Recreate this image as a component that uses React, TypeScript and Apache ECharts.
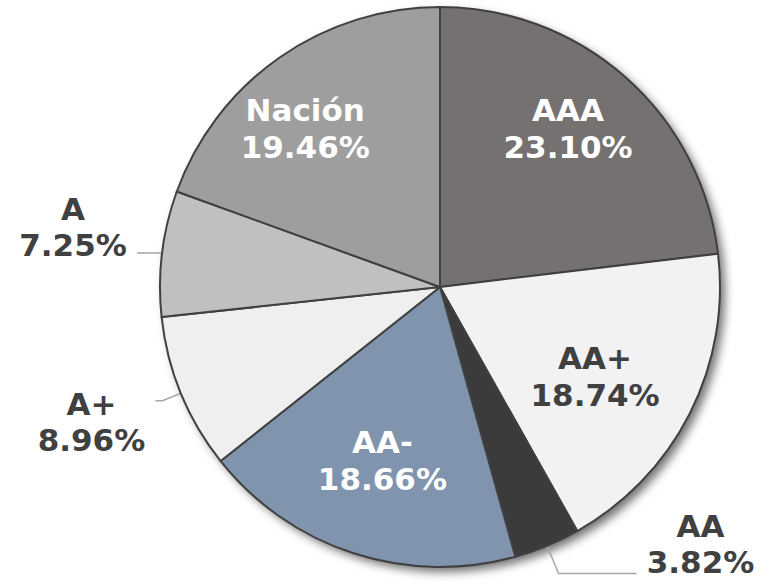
import React, { useEffect, useRef } from "react";
import * as echarts from "echarts";

const categories = ["AAA", "AA+", "AA", "AA-", "A+", "A", "Nación"];
const shares = [23.1, 18.74, 3.82, 18.66, 8.96, 7.25, 19.46];
const sliceColors = ["#757170", "#f2f2f2", "#3b3b3b", "#8094ae", "#efefef", "#c0c0c0", "#9e9e9e"];
const labelInside = [true, true, false, true, false, false, true];
const insideLabelColors = ["#ffffff", "#404040", "#ffffff", "#ffffff", "#404040", "#404040", "#ffffff"];
// small per-label nudges (styling)
const insideOffsets: Record<string, number[]> = {
  AAA: [0, -14],
  "AA+": [-17, 2],
  "AA-": [2, -10],
  "Nación": [-24, 0],
};
const outsideLabelStyle: Record<string, { padding: number[]; length: number; length2: number }> = {
  A: { padding: [0, 0, 52, 0], length: 3, length2: 22 },
  "A+": { padding: [43, 0, 0, 0], length: 20, length2: 7 },
  AA: { padding: [0, 0, 58, 0], length: 30, length2: 78 },
};

const FONT = "DejaVu Sans";
const CENTER = [440, 287];
const R = 280;

export default function App() {
  const ref = useRef<HTMLDivElement>(null);
  useEffect(() => {
    document.body.style.margin = "0";
    if (!ref.current) return;
    const chart = echarts.init(ref.current, undefined, { renderer: "svg" });
    const fmt = (v: number) => v.toFixed(2) + "%";

    const mainData = categories.map((name, i) => {
      const item: any = {
        name,
        value: shares[i],
        itemStyle: { color: sliceColors[i] },
      };
      if (labelInside[i]) {
        item.label = { show: false };
        item.labelLine = { show: false };
      } else {
        const s = outsideLabelStyle[name];
        item.label = {
          show: true,
          position: "outside",
          padding: s.padding,
          formatter: (p: any) => `{t|${p.name}}\n{t|${fmt(p.value)}}`,
          rich: {
            t: {
              width: 118,
              align: "center",
              fontFamily: FONT,
              fontWeight: "bold",
              fontSize: 31,
              lineHeight: 36,
              color: "#404040",
            },
          },
        };
        item.labelLine = { show: true, length: s.length, length2: s.length2 };
      }
      return item;
    });

    const labelData = categories.map((name, i) => ({
      name,
      value: shares[i],
      label: labelInside[i]
        ? { show: true, color: insideLabelColors[i], offset: insideOffsets[name] }
        : { show: false },
    }));

    chart.setOption({
      animation: false,
      backgroundColor: "#ffffff",
      series: [
        {
          type: "pie",
          center: CENTER,
          radius: R,
          silent: true,
          z: 1,
          label: { show: false },
          labelLine: { show: false },
          itemStyle: {
            color: "#ffffff",
            shadowColor: "rgba(0,0,0,0.55)",
            shadowBlur: 10,
            shadowOffsetX: 5,
            shadowOffsetY: 5,
          },
          data: [{ name: "bg", value: 1 }],
        },
        {
          type: "pie",
          center: CENTER,
          radius: R,
          startAngle: 90,
          clockwise: true,
          z: 2,
          avoidLabelOverlap: false,
          emphasis: { disabled: true },
          itemStyle: { borderColor: "#404040", borderWidth: 2 },
          labelLine: {
            lineStyle: { color: "#a6a6a6", width: 1.5 },
            smooth: false,
          },
          data: mainData,
        },
        {
          type: "pie",
          center: CENTER,
          radius: R * 1.357,
          startAngle: 90,
          clockwise: true,
          silent: true,
          z: 3,
          emphasis: { disabled: true },
          itemStyle: { color: "rgba(0,0,0,0)", borderWidth: 0 },
          labelLine: { show: false },
          label: {
            position: "inside",
            fontFamily: FONT,
            fontWeight: "bold",
            fontSize: 31,
            lineHeight: 37,
            align: "center",
            formatter: (p: any) => `${p.name}\n${fmt(p.value)}`,
          },
          data: labelData,
        },
      ],
    });
    return () => chart.dispose();
  }, []);
  return <div ref={ref} style={{ width: 777, height: 585 }} />;
}
